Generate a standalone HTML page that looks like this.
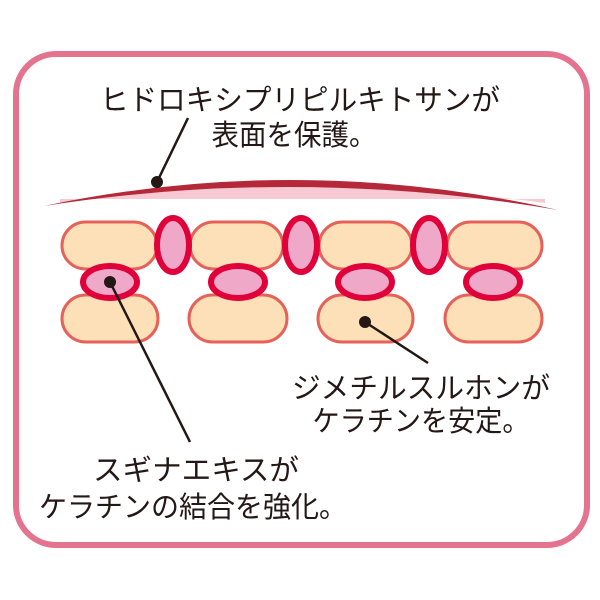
<!DOCTYPE html>
<html><head><meta charset="utf-8"><style>
html,body{margin:0;padding:0;background:#fff;}
svg{display:block;}
text{font-family:"Liberation Sans","Noto Sans CJK JP",sans-serif;fill:#231815;font-size:29px;}
</style></head><body>
<svg width="600" height="600" viewBox="0 0 600 600">
<rect x="16" y="54" width="571" height="491" rx="40" fill="#fff" stroke="#e3738f" stroke-width="6"/>
<!-- membrane -->
<path d="M60,203 Q300,170 545,203 L545,199 L60,199 Z" fill="#f7c9d3"/>
<path d="M44,206 Q300,152 558,210 Q300,166 44,206 Z" fill="#b5283a"/>
<g fill="#fde0b8" stroke="#e6615a" stroke-width="3">
<rect x="62" y="222" width="95" height="47" rx="23.5"/>
<rect x="190" y="222" width="93" height="47" rx="23.5"/>
<rect x="319" y="222" width="93" height="47" rx="23.5"/>
<rect x="447" y="222" width="95" height="47" rx="23.5"/>
<rect x="62" y="295" width="96" height="47" rx="23.5"/>
<rect x="189" y="295" width="98" height="47" rx="23.5"/>
<rect x="318" y="295" width="95" height="47" rx="23.5"/>
<rect x="445" y="295" width="97" height="47" rx="23.5"/>
</g>
<g fill="#f0a8c8" stroke="#e0003a" stroke-width="6">
<ellipse cx="173" cy="245" rx="16" ry="27"/>
<ellipse cx="301" cy="245" rx="16" ry="27"/>
<ellipse cx="429" cy="245" rx="16" ry="27"/>
<ellipse cx="110" cy="282" rx="27" ry="16"/>
<ellipse cx="238" cy="282" rx="27" ry="16"/>
<ellipse cx="365" cy="282" rx="27" ry="16"/>
<ellipse cx="493" cy="282" rx="27" ry="16"/>
</g>
<g stroke="#231815" stroke-width="2.5" fill="none">
<line x1="157" y1="182" x2="188" y2="118"/>
<line x1="110" y1="282" x2="190" y2="442"/>
<line x1="365" y1="322" x2="428" y2="363"/>
</g>
<g fill="#231815">
<circle cx="157" cy="182" r="6"/>
<circle cx="110" cy="282" r="6"/>
<circle cx="365" cy="322" r="6"/>
</g>
<text x="300" y="110" text-anchor="middle" textLength="400" lengthAdjust="spacingAndGlyphs">ヒドロキシプリピルキトサンが</text>
<text x="294" y="145" text-anchor="middle" textLength="165" lengthAdjust="spacingAndGlyphs">表面を保護。</text>
<text x="421" y="398" text-anchor="middle" textLength="258" lengthAdjust="spacingAndGlyphs">ジメチルスルホンが</text>
<text x="421" y="431" text-anchor="middle" textLength="217" lengthAdjust="spacingAndGlyphs">ケラチンを安定。</text>
<text x="196" y="480" text-anchor="middle" textLength="206" lengthAdjust="spacingAndGlyphs">スギナエキスが</text>
<text x="193" y="517" text-anchor="middle" textLength="308" lengthAdjust="spacingAndGlyphs">ケラチンの結合を強化。</text>
</svg>
</body></html>
